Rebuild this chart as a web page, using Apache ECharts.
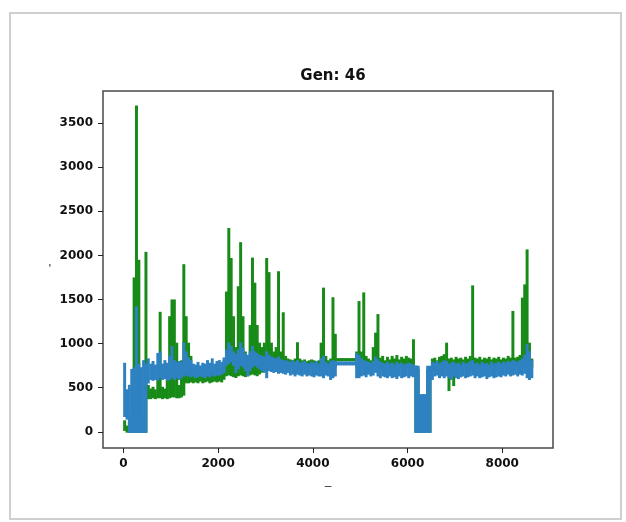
<!DOCTYPE html>
<html>
<head>
<meta charset="utf-8">
<script src="https://cdn.jsdelivr.net/npm/echarts@6/dist/echarts.min.js"></script>
<style>
  html, body { margin: 0; padding: 0; background: #fff; }
  #chart { width: 626px; height: 522px; }
</style>
</head>
<body>
<div id="chart"></div>
<script>
// the traces are very dense, so each one is read as a low/high band per 50-step bin
// bin i covers x from i*50 to (i+1)*50
const xStep = 50;

const greenHigh = [
  120, 60, 100, 180, 1740, 3690, 1940, 200, 150, 2030, 520, 480, 500, 470, 600, 1350, 500, 480, 700, 1300,
  1490, 1490, 1000, 520, 800, 1890, 1300, 1000, 850, 700, 680, 660, 700, 680, 690, 720, 680, 700, 680, 700,
  720, 700, 800, 1580, 2300, 1960, 1300, 950, 1640, 2140, 1300, 900, 800, 1200, 1965, 1680, 1200, 1000, 950, 1000,
  1960, 1800, 1000, 900, 950, 1810, 900, 1345, 850, 820, 810, 800, 820, 1005, 820, 800, 810, 790, 800, 810,
  800, 790, 800, 1000, 1624, 850, 800, 820, 1515, 1100, 825, 825, 825, 825, 825, 825, 825, 825, 900, 1472,
  900, 1570, 850, 820, 800, 950, 1114, 1324, 830, 850, 800, 840, 810, 850, 820, 860, 810, 840, 820, 850,
  830, 820, 1039, 700, 700, 400, 400, 400, 700, 700, 820, 830, 800, 840, 850, 870, 1000, 820, 830, 810,
  840, 820, 830, 810, 840, 820, 850, 1650, 830, 820, 840, 810, 830, 820, 840, 810, 830, 820, 840, 810,
  830, 820, 850, 830, 1360, 830, 840, 860, 1511, 1661, 2058, 1000, 820
];
const greenLow = [
  20, 0, 0, 0, 0, 0, 0, 0, 0, 0, 380, 380, 390, 380, 390, 390, 380, 390, 380, 390,
  400, 400, 390, 390, 400, 420, 560, 560, 570, 560, 570, 560, 580, 560, 570, 580, 560, 570, 580, 570,
  580, 570, 600, 640, 650, 640, 630, 620, 640, 650, 640, 630, 640, 650, 660, 650, 640, 660, 680, 680,
  690, 700, 700, 710, 700, 720, 720, 720, 730, 720, 730, 720, 730, 720, 730, 720, 730, 720, 730, 720,
  730, 720, 730, 730, 740, 730, 720, 730, 740, 740, 810, 810, 810, 810, 810, 810, 810, 810, 740, 740,
  740, 740, 730, 730, 720, 730, 740, 740, 730, 720, 730, 720, 730, 720, 730, 720, 730, 720, 730, 720,
  730, 720, 720, 0, 0, 0, 0, 0, 0, 0, 700, 720, 700, 720, 710, 720, 720, 472, 720, 528,
  720, 730, 720, 730, 720, 730, 720, 730, 720, 730, 720, 730, 720, 730, 720, 730, 720, 730, 720, 730,
  720, 730, 720, 730, 740, 730, 740, 740, 750, 760, 760, 740, 740
];

const blueHigh = [
  770, 470, 520, 700, 720, 1410, 760, 720, 800, 760, 820, 760, 790, 750, 880, 900, 760, 800, 770, 850,
  960, 800, 780, 790, 780, 1000, 900, 830, 800, 760, 750, 780, 740, 770, 760, 800, 770, 820, 760, 790,
  800, 780, 830, 920, 1000, 960, 900, 870, 920, 1000, 940, 880, 860, 900, 960, 900, 880, 860, 850, 840,
  900, 860, 840, 830, 820, 840, 810, 800, 800, 790, 780, 800, 780, 800, 770, 780, 790, 770, 760, 780,
  770, 790, 760, 820, 850, 780, 760, 790, 800, 790, 785, 785, 785, 785, 785, 785, 785, 785, 880, 860,
  820, 800, 790, 780, 770, 790, 840, 810, 780, 770, 760, 780, 760, 770, 750, 780, 760, 770, 750, 760,
  770, 760, 750, 740, 736, 415, 415, 415, 736, 736, 780, 770, 790, 760, 780, 800, 790, 760, 770, 780,
  760, 770, 750, 780, 760, 770, 790, 800, 760, 770, 750, 780, 760, 770, 750, 780, 760, 770, 780, 760,
  780, 770, 790, 780, 800, 790, 780, 800, 820, 860, 980, 900, 800
];
const blueLow = [
  180, 150, 0, 0, 0, 0, 0, 0, 0, 0, 560, 600, 590, 600, 590, 620, 600, 610, 590, 600,
  620, 600, 620, 600, 620, 640, 650, 640, 630, 640, 620, 630, 640, 630, 620, 640, 630, 650, 640, 650,
  650, 660, 680, 760, 780, 800, 760, 680, 720, 760, 740, 700, 640, 700, 740, 760, 740, 720, 700, 690,
  620, 700, 690, 680, 690, 670, 680, 670, 660, 680, 650, 660, 640, 660, 650, 640, 660, 640, 650, 640,
  630, 650, 640, 640, 620, 650, 640, 600, 620, 640, 765, 765, 765, 765, 765, 765, 765, 765, 620, 620,
  640, 650, 630, 660, 640, 650, 680, 640, 620, 640, 630, 620, 640, 620, 630, 610, 640, 620, 630, 640,
  620, 640, 630, 0, 0, 0, 0, 0, 0, 0, 600, 640, 650, 620, 640, 620, 640, 620, 600, 640,
  620, 610, 630, 640, 620, 630, 640, 650, 620, 640, 620, 630, 640, 610, 630, 640, 620, 630, 640, 630,
  650, 640, 660, 640, 650, 660, 640, 660, 650, 670, 620, 600, 620
];

const xTicks = [0, 2000, 4000, 6000, 8000];
const yTicks = [0, 500, 1000, 1500, 2000, 2500, 3000, 3500];

const toBins = (low, high) => low.map((lo, i) => [i * xStep, lo, high[i]]);

// each bin is drawn as the column a dense trace fills between its low and high
function bandItem(lineHalf) {
  return (params, api) => {
    const x0 = api.value(0);
    const top = api.coord([x0, api.value(2)]);
    const bot = api.coord([x0 + xStep, api.value(1)]);
    return {
      type: "rect",
      shape: {
        x: top[0] - 0.3,
        y: top[1] - lineHalf,
        width: bot[0] - top[0] + 0.6,
        height: bot[1] - top[1] + lineHalf * 2,
      },
      style: { fill: api.visual("color") },
    };
  };
}

const chart = echarts.init(document.getElementById("chart"), null, { renderer: "canvas" });

const labelFont = { color: "#111", fontSize: 12, fontWeight: "bold", fontFamily: "DejaVu Sans" };

chart.setOption({
  animation: false,
  backgroundColor: "#fff",
  title: {
    text: "Gen: 46",
    left: 328,
    top: 64,
    textAlign: "center",
    textStyle: { color: "#111", fontSize: 15, fontWeight: "bold", fontFamily: "DejaVu Sans" },
  },
  graphic: [
    {
      type: "rect",
      shape: { x: 10, y: 13, width: 611, height: 506 },
      style: { fill: "none", stroke: "#cfcfcf", lineWidth: 2 },
      silent: true,
    },
  ],
  grid: {
    left: 103,
    right: 73,
    top: 91,
    bottom: 74,
    show: true,
    borderColor: "#4a4a4a",
    borderWidth: 1.5,
    containLabel: false,
    outerBoundsMode: "none",
  },
  xAxis: {
    type: "value",
    min: -432,
    max: 9072,
    name: "–",
    nameLocation: "middle",
    nameGap: 33,
    nameTextStyle: { color: "#333", fontSize: 12 },
    axisLine: { show: false, onZero: false },
    axisTick: { show: true, length: 5, customValues: xTicks, lineStyle: { color: "#222" } },
    axisLabel: { ...labelFont, margin: 10, customValues: xTicks, formatter: (v) => String(v) },
    splitLine: { show: false },
  },
  yAxis: {
    type: "value",
    min: -184,
    max: 3864,
    name: "'",
    nameLocation: "middle",
    nameGap: 52,
    nameRotate: 0,
    nameTextStyle: { color: "#333", fontSize: 12 },
    axisLine: { show: false, onZero: false },
    axisTick: { show: true, length: 5, customValues: yTicks, lineStyle: { color: "#222" } },
    axisLabel: { ...labelFont, margin: 10, customValues: yTicks, formatter: (v) => String(v) },
    splitLine: { show: false },
  },
  series: [
    {
      name: "green",
      type: "custom",
      data: toBins(greenLow, greenHigh),
      renderItem: bandItem(0.9),
      itemStyle: { color: "#178a17" },
      encode: { x: 0, y: [1, 2] },
      z: 2,
    },
    {
      name: "blue",
      type: "custom",
      data: toBins(blueLow, blueHigh),
      renderItem: bandItem(1.1),
      itemStyle: { color: "#2f82c1" },
      encode: { x: 0, y: [1, 2] },
      z: 3,
    },
  ],
});
</script>
</body>
</html>
